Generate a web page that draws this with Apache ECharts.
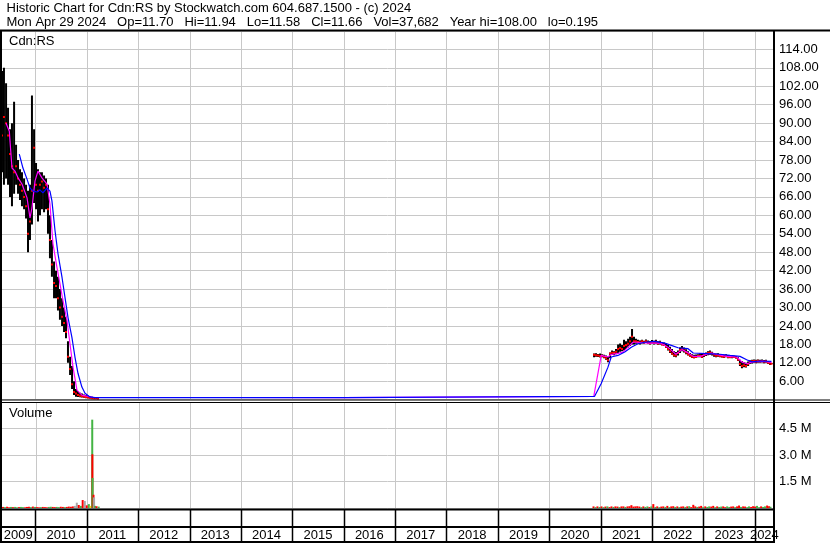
<!DOCTYPE html>
<html><head><meta charset="utf-8">
<script src="https://cdn.jsdelivr.net/npm/echarts@6/dist/echarts.min.js"></script>
<style>html,body{margin:0;padding:0;background:#fff}#c{width:830px;height:543px}</style>
</head><body><div id="c"></div>
<script>
// ---------------- texts ----------------
const titleLine1 = 'Historic Chart for Cdn:RS by Stockwatch.com 604.687.1500 - (c) 2024';
const titleLine2 = 'Mon Apr 29 2024   Op=11.70   Hi=11.94   Lo=11.58   Cl=11.66   Vol=37,682   Year hi=108.00   lo=0.195';
const symbolLabel = 'Cdn:RS';
const volumeLabel = 'Volume';

// ---------------- axis ranges ----------------
const axisStart = '2009-05-02';
const axisEnd = '2024-05-17';
const priceMin = 0, priceMax = 120, priceStep = 6;
const volMin = 0, volMax = 6, volStep = 1.5;   // millions
const yearLabels = ['2009','2010','2011','2012','2013','2014','2015','2016','2017','2018','2019','2020','2021','2022','2023','2024'];
const yearStarts = ['2009-01-01','2010-01-01','2011-01-01','2012-01-01','2013-01-01','2014-01-01','2015-01-01','2016-01-01','2017-01-01','2018-01-01','2019-01-01','2020-01-01','2021-01-01','2022-01-01','2023-01-01','2024-01-01','2025-01-01'];

// ---------------- price, period 1 (2009-2011) ----------------
const dates1 = ['2009-05-09','2009-05-23','2009-06-07','2009-06-21','2009-07-05','2009-07-19','2009-08-03','2009-08-17','2009-08-31','2009-09-14','2009-09-28','2009-10-13','2009-10-27','2009-11-10','2009-11-24','2009-12-08','2009-12-23',
'2010-01-06','2010-01-20','2010-02-03','2010-02-17','2010-03-04','2010-03-18','2010-04-01','2010-04-15','2010-04-29','2010-05-14','2010-05-28','2010-06-11','2010-06-25','2010-07-10','2010-07-24','2010-08-07','2010-08-21','2010-09-05','2010-09-19','2010-10-03','2010-10-17','2010-10-31','2010-11-15','2010-11-28','2010-12-13','2010-12-27',
'2011-01-11','2011-01-24','2011-02-07','2011-02-21','2011-03-07','2011-03-22'];
const high1 = [107,108,103,95,88,90,97,83,78,75,74,72,70,68,70,99,88,77,75,74,74,73,72,70,60,52,45,42,40,36,33,30,27,19,14,11,6,3.5,2.8,2.3,2.0,1.7,1.5,1.3,1.1,0.95,0.8,0.6,0.5];
const low1 = [74,70,72,70,66,63,67,70,67,65,63,62,59,48,52,57,64,62,58,60,62,61,62,54,46,40,33,33,29,26,24,22,20,12,8,3.5,1.5,1.0,0.9,0.8,0.7,0.6,0.5,0.45,0.4,0.3,0.25,0.2,0.2];
const close1 = [86,92,90,86,80,76,74,76,72,70,68,66,63,54,58,68,82,70,68,70,71,69,70,62,52,44,38,37,33,30,27,25,22,14,10,5,2.5,2.0,1.5,1.3,1.1,1.0,0.9,0.7,0.6,0.5,0.4,0.35,0.3];

// ---------------- price, period 2 (2020-2024) ----------------
const dates2 = ['2020-11-15','2020-11-29','2020-12-13','2020-12-28',
'2021-01-11','2021-01-25','2021-02-08','2021-02-22','2021-03-09','2021-03-23','2021-04-06','2021-04-20','2021-05-05','2021-05-19','2021-06-02','2021-06-16','2021-06-30','2021-07-15','2021-07-29','2021-08-12','2021-08-26','2021-09-09','2021-09-23','2021-10-08','2021-10-22','2021-11-05','2021-11-19','2021-12-04','2021-12-18',
'2022-01-01','2022-01-15','2022-01-29','2022-02-12','2022-02-27','2022-03-13','2022-03-27','2022-04-11','2022-04-25','2022-05-09','2022-05-23','2022-06-06','2022-06-20','2022-07-05','2022-07-19','2022-08-02','2022-08-16','2022-08-31','2022-09-14','2022-09-28','2022-10-12','2022-10-27','2022-11-10','2022-11-24','2022-12-08','2022-12-22',
'2023-01-05','2023-01-20','2023-02-03','2023-02-17','2023-03-04','2023-03-18','2023-04-01','2023-04-15','2023-04-29','2023-05-14','2023-05-28','2023-06-11','2023-06-25','2023-07-10','2023-07-24','2023-08-07','2023-08-21','2023-09-04','2023-09-18','2023-10-02','2023-10-17','2023-10-31','2023-11-15','2023-11-28','2023-12-13','2023-12-27',
'2024-01-10','2024-01-24','2024-02-08','2024-02-22','2024-03-07','2024-03-21','2024-04-05','2024-04-19','2024-04-29'];
const high2 = [15.0,15.1,14.9,15.0,14.8,14.6,14.4,14.0,15.4,16.0,15.8,16.5,18.0,18.3,17.8,19.5,19.0,19.8,20.5,23.0,
20.5,19.8,19.5,19.3,19.5,19.2,19.6,19.3,19.0,19.4,19.2,19.5,19.0,19.2,18.8,18.6,18.4,17.8,17.2,16.5,
15.8,15.5,16.0,17.0,17.5,17.0,16.4,15.8,15.2,14.8,14.6,14.7,14.8,15.0,15.0,15.2,15.4,15.8,16.0,15.6,
15.2,15.0,15.1,14.8,14.9,14.6,14.8,14.5,14.4,14.5,14.3,14.2,13.8,13.0,12.6,12.2,12.0,12.4,12.8,13.0,
13.1,13.0,13.1,13.0,13.1,12.9,13.0,12.6,12.3,11.94];
const low2 = [13.8,14.0,13.9,13.7,13.8,13.5,13.0,12.2,13.5,14.6,14.5,14.8,15.0,15.6,15.8,16.0,16.5,17.0,17.5,18.0,
18.0,18.2,18.3,18.0,18.3,18.2,18.5,18.2,18.0,18.3,18.0,18.2,17.9,18.0,17.7,17.5,16.8,16.0,15.2,14.6,
14.0,13.8,14.4,15.2,15.8,15.4,14.8,14.4,14.0,13.6,13.5,13.6,13.8,13.8,13.6,13.9,14.2,14.5,14.6,14.4,
14.0,13.8,14.0,13.8,13.7,13.6,13.8,13.5,13.6,13.5,13.6,13.4,12.6,11.0,10.2,10.6,10.5,11.0,11.6,11.8,
12.0,11.9,12.0,12.0,12.1,11.9,12.0,11.6,11.3,11.58];
const close2 = [14.6,14.5,14.4,14.2,14.3,14.0,13.5,12.8,15.0,15.3,15.2,15.6,16.5,16.8,16.5,17.5,17.8,18.2,19.0,20.5,
19.0,19.0,18.8,18.6,19.0,18.7,19.0,18.6,18.4,18.8,18.5,18.9,18.3,18.6,18.0,17.9,17.2,16.5,15.8,15.0,
14.5,14.4,15.2,16.2,16.6,16.0,15.4,14.8,14.3,14.0,13.8,13.9,14.2,14.3,14.0,14.5,14.8,15.2,15.4,15.0,
14.6,14.3,14.5,14.2,14.1,14.0,14.2,13.9,13.8,14.0,13.9,13.7,13.0,11.6,11.0,11.2,11.0,11.6,12.3,12.5,
12.6,12.5,12.7,12.5,12.6,12.4,12.5,12.0,11.8,11.66];

// ---------------- moving averages ----------------
const maShortDates = ['2009-06-07','2009-06-30','2009-07-19','2009-08-09','2009-08-31','2009-09-28','2009-11-03','2009-11-24','2009-12-08','2009-12-30','2010-01-20','2010-02-17','2010-03-25','2010-04-15','2010-05-06','2010-06-04','2010-06-25','2010-07-16','2010-08-14','2010-09-04','2010-09-26','2010-10-24','2010-11-28','2011-02-14','2015-12-31','2016-01-04','2020-11-13',
'2021-01-05','2021-02-22','2021-03-17','2021-05-04','2021-06-09','2021-07-14','2021-08-19','2021-09-23','2021-12-03','2022-03-06','2022-04-24','2022-06-20','2022-08-02','2022-09-14','2022-10-21','2022-12-08','2023-01-25','2023-03-01','2023-04-06','2023-06-16','2023-08-26','2023-09-30','2023-11-05','2023-12-22','2024-03-02','2024-04-29'];
const maShortValues = [90,87.4,75.4,74.4,72.2,70.2,65.7,59.2,62.4,71.2,74.4,72.2,70.2,63.7,50.8,43.0,37.8,32.3,25.8,18.3,10.5,3.1,1.5,0.8,0.7,1.1,1.1,
14.4,13.9,14.7,15.1,15.5,17.1,18.7,18.7,18.4,18.4,17.1,14.8,16.3,15.3,14.1,14.1,14.8,15.2,14.7,14.1,13.9,12.3,11.7,12.3,12.5,12.1];
const maLongDates = ['2009-09-09','2009-10-05','2009-11-03','2009-11-24','2009-12-16','2010-01-13','2010-02-03','2010-02-24','2010-03-25','2010-04-15','2010-04-29','2010-05-21','2010-06-11','2010-07-10','2010-07-31','2010-08-21','2010-09-18','2010-10-10','2010-10-31','2010-11-28','2010-12-20','2011-01-24','2011-03-01','2015-12-31','2016-01-04','2020-11-19',
'2021-01-05','2021-02-22','2021-03-17','2021-05-04','2021-06-21','2021-08-07','2021-09-23','2021-11-10','2022-01-20','2022-04-01','2022-05-18','2022-07-05','2022-09-14','2022-10-21','2023-01-25','2023-04-29','2023-07-10','2023-09-18','2023-11-05','2023-12-11','2024-02-07','2024-04-29'];
const maLongValues = [79.9,75.4,71.8,68.9,67.9,67.6,68.3,67.3,68.9,67.9,64.7,55.0,47.5,39.7,33.2,26.8,20.3,13.8,8.6,4.1,2.1,0.9,0.7,0.7,1.1,1.1,
5.3,10.6,13.9,14.4,15.5,17.1,18.2,18.7,19.0,18.4,17.7,16.9,16.6,15.2,15.0,14.8,14.4,14.1,13.0,12.3,12.6,12.5];

// ---------------- volume (millions of shares) ----------------
const spikeDates = ['2011-02-04','2011-02-05','2011-02-06','2011-02-13','2011-02-17','2011-02-24','2011-03-07','2011-03-22'];
const volValues1 = [0.06,0.05,0.07,0.04,0.06,0.05,0.06,0.04,0.05,0.06,0.05,0.04,0.06,0.07,0.05,0.08,0.06,0.05,0.04,0.05,0.06,0.05,0.04,0.06,0.07,0.06,0.05,0.06,0.05,0.07,0.06,0.05,0.06,0.08,0.07,
0.09,0.12,0.3,0.17,0.12,0.45,0.4,0.15,0.22,0.12];
const volDir1 = 'dudduduuduudddududduddduudduuddudd' + 'ddnndudndu';
const spikeValues = [5.0,3.04,1.7,0.75,0.6,0.12,0.1,0.08];
const spikeDir = 'ududnudu';
const volValues2 = [0.09,0.05,0.09,0.06,0.09,0.05,0.08,0.09,0.05,0.09,
0.06,0.09,0.08,0.05,0.09,0.09,0.06,0.09,0.1,0.16,
0.08,0.09,0.1,0.08,0.05,0.09,0.06,0.09,0.05,0.09,
0.22,0.06,0.09,0.05,0.08,0.09,0.06,0.12,0.05,0.09,
0.1,0.06,0.09,0.05,0.08,0.09,0.06,0.09,0.1,0.05,
0.18,0.09,0.06,0.08,0.12,0.05,0.09,0.06,0.09,0.08,
0.12,0.05,0.09,0.06,0.08,0.09,0.05,0.09,0.06,0.08,
0.09,0.05,0.09,0.14,0.06,0.09,0.08,0.05,0.09,0.06,
0.1,0.08,0.12,0.05,0.09,0.06,0.09,0.14,0.1,0.07];
const volDir2 = 'dududududd' + 'uddudduddd' + 'dddduduudu' + 'dududdudud' + 'dududdudud' + 'ddudduduud' + 'duduudduud' + 'duddudduud' + 'dduuduuddu';

// ---------------- colours ----------------
const COLORS = { u: '#44b444', d: '#ff0000', n: '#a8a8a8' };

// ================= build =================
const T = s => new Date(s + 'T00:00:00').getTime();
const FF = 'Arial, "Liberation Sans", sans-serif';
const FONT = '13px ' + FF;

const ohlc = [];
dates1.forEach((d, i) => ohlc.push([T(d), high1[i], low1[i], close1[i]]));
dates2.forEach((d, i) => ohlc.push([T(d), high2[i], low2[i], close2[i]]));

const maShort = maShortDates.map((d, i) => [T(d), maShortValues[i]]);
const maLong = maLongDates.map((d, i) => [T(d), maLongValues[i]]);

const volData = [];
const pushVol = (d, v, c) => volData.push({ value: [T(d), v], itemStyle: { color: COLORS[c] } });
volValues1.forEach((v, i) => pushVol(dates1[i], v, volDir1[i]));
spikeValues.forEach((v, i) => pushVol(spikeDates[i], v, spikeDir[i]));
volValues2.forEach((v, i) => pushVol(dates2[i], v, volDir2[i]));

const gridTicks = yearStarts.slice(1, -1).map(d => [T(d)]);
const yearBoxes = yearLabels.map((y, i) => [T(yearStarts[i]), T(yearStarts[i + 1])]);

function vGrid(params, api) {
  const cs = params.coordSys;
  const x = Math.round(api.coord([api.value(0), 0])[0]) + 0.5;
  return { type: 'line', silent: true, shape: { x1: x, y1: cs.y, x2: x, y2: cs.y + cs.height },
    style: { stroke: '#c8c8c8', lineWidth: 1 } };
}
function ohlcItem(params, api) {
  const t = api.value(0);
  const h = api.coord([t, api.value(1)]);
  const l = api.coord([t, api.value(2)]);
  const c = api.coord([t, api.value(3)]);
  return { type: 'group', children: [
    { type: 'rect', shape: { x: h[0] - 1, y: h[1], width: 2, height: Math.max(1, l[1] - h[1]) }, style: { fill: '#000' } },
    { type: 'rect', shape: { x: c[0] - 1, y: c[1] - 1, width: 2, height: 2 }, style: { fill: '#ff0000' } }
  ]};
}
function yearItem(params, api) {
  const cs = params.coordSys;
  const x0 = api.coord([api.value(0), 0])[0];
  const x1 = api.coord([api.value(1), 0])[0];
  const a = Math.max(x0, cs.x), b = Math.min(x1, cs.x + cs.width);
  const ch = [];
  if (x0 > cs.x + 1 && x0 < cs.x + cs.width) {
    const xx = Math.round(x0) + 0.5;
    ch.push({ type: 'line', shape: { x1: xx, y1: cs.y, x2: xx, y2: cs.y + cs.height }, style: { stroke: '#000', lineWidth: 1.5 } });
  }
  ch.push({ type: 'text', x: (a + b) / 2, y: cs.y + cs.height * 0.79,
    style: { text: yearLabels[params.dataIndex], fill: '#000', font: FONT, align: 'center', verticalAlign: 'middle' } });
  return { type: 'group', children: ch };
}

const xBase = { type: 'time', min: T(axisStart), max: T(axisEnd), show: false,
  axisLine: { show: false }, axisTick: { show: false }, axisLabel: { show: false }, splitLine: { show: false } };

const chart = echarts.init(document.getElementById('c'), null, { width: 830, height: 543 });
chart.setOption({
  animation: false,
  backgroundColor: '#ffffff',
  grid: [
    { left: 1, right: 56, top: 31, height: 368.7 },
    { left: 1, right: 56, top: 402, height: 106 },
    { left: 1, right: 56, top: 509, height: 33 }
  ],
  xAxis: [ Object.assign({ gridIndex: 0 }, xBase), Object.assign({ gridIndex: 1 }, xBase), Object.assign({ gridIndex: 2 }, xBase) ],
  yAxis: [
    { gridIndex: 0, type: 'value', position: 'right', min: priceMin, max: priceMax, interval: priceStep,
      axisLine: { show: false }, axisTick: { show: false },
      axisLabel: { margin: 5, color: '#000', fontSize: 13, fontFamily: FF,
        formatter: v => (v <= priceMin || v >= priceMax) ? '' : v.toFixed(2) },
      splitLine: { lineStyle: { color: '#c8c8c8', width: 1 } } },
    { gridIndex: 1, type: 'value', position: 'right', min: volMin, max: volMax, interval: volStep,
      axisLine: { show: false }, axisTick: { show: false },
      axisLabel: { margin: 5, color: '#000', fontSize: 13, fontFamily: FF,
        formatter: v => (v <= volMin || v >= volMax) ? '' : v.toFixed(1) + ' M' },
      splitLine: { lineStyle: { color: '#c8c8c8', width: 1 } } },
    { gridIndex: 2, type: 'value', min: 0, max: 1, show: false, splitLine: { show: false } }
  ],
  series: [
    { type: 'custom', xAxisIndex: 0, yAxisIndex: 0, data: gridTicks, renderItem: vGrid, silent: true, z: 1 },
    { type: 'custom', xAxisIndex: 1, yAxisIndex: 1, data: gridTicks, renderItem: vGrid, silent: true, z: 1 },
    { type: 'custom', xAxisIndex: 0, yAxisIndex: 0, data: ohlc, renderItem: ohlcItem, encode: { x: 0, y: [1, 2, 3] }, clip: true, silent: true, z: 3 },
    { type: 'line', xAxisIndex: 0, yAxisIndex: 0, data: maShort, symbol: 'none', lineStyle: { color: '#ff00ff', width: 1.2 }, silent: true, z: 4 },
    { type: 'line', xAxisIndex: 0, yAxisIndex: 0, data: maLong, symbol: 'none', lineStyle: { color: '#0000ff', width: 1.2 }, silent: true, z: 5 },
    { type: 'bar', xAxisIndex: 1, yAxisIndex: 1, data: volData, barWidth: 2, silent: true, z: 3 },
    { type: 'custom', xAxisIndex: 2, yAxisIndex: 2, data: yearBoxes, renderItem: yearItem, encode: { x: [0, 1] }, silent: true, z: 6 }
  ],
  graphic: [
    { type: 'text', x: 6.5, y: 8.6, z: 100, style: { text: titleLine1, font: FONT, fill: '#000', verticalAlign: 'middle' } },
    { type: 'text', x: 6.5, y: 22.6, z: 100, style: { text: titleLine2, font: FONT, fill: '#000', verticalAlign: 'middle' } },
    { type: 'text', x: 9, y: 41.8, z: 100, style: { text: symbolLabel, font: FONT, fill: '#000', verticalAlign: 'middle' } },
    { type: 'text', x: 9, y: 413.5, z: 100, style: { text: volumeLabel, font: FONT, fill: '#000', verticalAlign: 'middle' } },
    { type: 'line', z: 100, shape: { x1: 0, y1: 30.5, x2: 830, y2: 30.5 }, style: { stroke: '#000', lineWidth: 2 } },
    { type: 'line', z: 100, shape: { x1: 1, y1: 30, x2: 1, y2: 543 }, style: { stroke: '#000', lineWidth: 2 } },
    { type: 'line', z: 100, shape: { x1: 774, y1: 30, x2: 774, y2: 543 }, style: { stroke: '#000', lineWidth: 2 } },
    { type: 'line', z: 100, shape: { x1: 0, y1: 400, x2: 830, y2: 400 }, style: { stroke: '#000', lineWidth: 1 } },
    { type: 'line', z: 100, shape: { x1: 0, y1: 402.5, x2: 830, y2: 402.5 }, style: { stroke: '#000', lineWidth: 1 } },
    { type: 'line', z: 100, shape: { x1: 0, y1: 509.5, x2: 774, y2: 509.5 }, style: { stroke: '#000', lineWidth: 2 } },
    { type: 'line', z: 100, shape: { x1: 0, y1: 527, x2: 774, y2: 527 }, style: { stroke: '#000', lineWidth: 2 } },
    { type: 'line', z: 100, shape: { x1: 0, y1: 542, x2: 774, y2: 542 }, style: { stroke: '#000', lineWidth: 2 } }
  ]
});
</script>
</body></html>
